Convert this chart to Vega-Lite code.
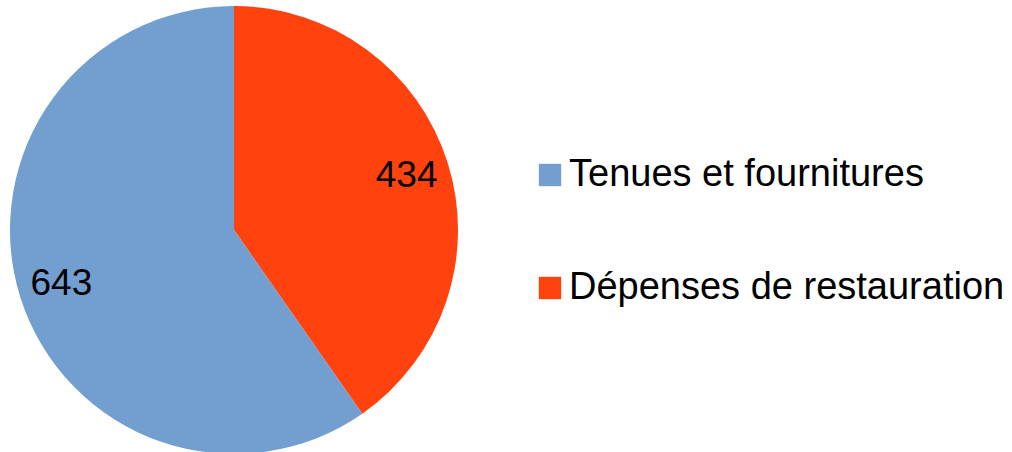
{
  "$schema": "https://vega.github.io/schema/vega-lite/v6.json",
  "width": 468,
  "height": 460,
  "padding": 0,
  "background": "white",
  "data": {
    "values": [
      {"categorie": "Dépenses de restauration", "valeur": 434, "ordre": 1},
      {"categorie": "Tenues et fournitures", "valeur": 643, "ordre": 2}
    ]
  },
  "encoding": {
    "theta": {"field": "valeur", "type": "quantitative", "stack": true},
    "order": {"field": "ordre", "type": "quantitative"},
    "color": {
      "field": "categorie",
      "type": "nominal",
      "scale": {
        "domain": ["Tenues et fournitures", "Dépenses de restauration"],
        "range": ["#729fcf", "#ff420e"]
      },
      "legend": {
        "title": null,
        "orient": "none",
        "legendX": 531,
        "legendY": 156,
        "symbolType": "square",
        "symbolSize": 500,
        "symbolStrokeWidth": 0,
        "symbolOpacity": 1,
        "labelFontSize": 38,
        "labelFont": "Liberation Sans",
        "labelColor": "black",
        "labelOffset": 0,
        "rowPadding": 75,
        "labelLimit": 700
      }
    }
  },
  "layer": [
    {"mark": {"type": "arc", "outerRadius": 224}},
    {
      "mark": {
        "type": "text",
        "radius": 181,
        "fontSize": 37,
        "font": "Liberation Sans",
        "align": "center",
        "baseline": "middle"
      },
      "encoding": {
        "text": {"field": "valeur", "type": "quantitative"},
        "color": {"value": "black"}
      }
    }
  ],
  "config": {"view": {"stroke": null}}
}
